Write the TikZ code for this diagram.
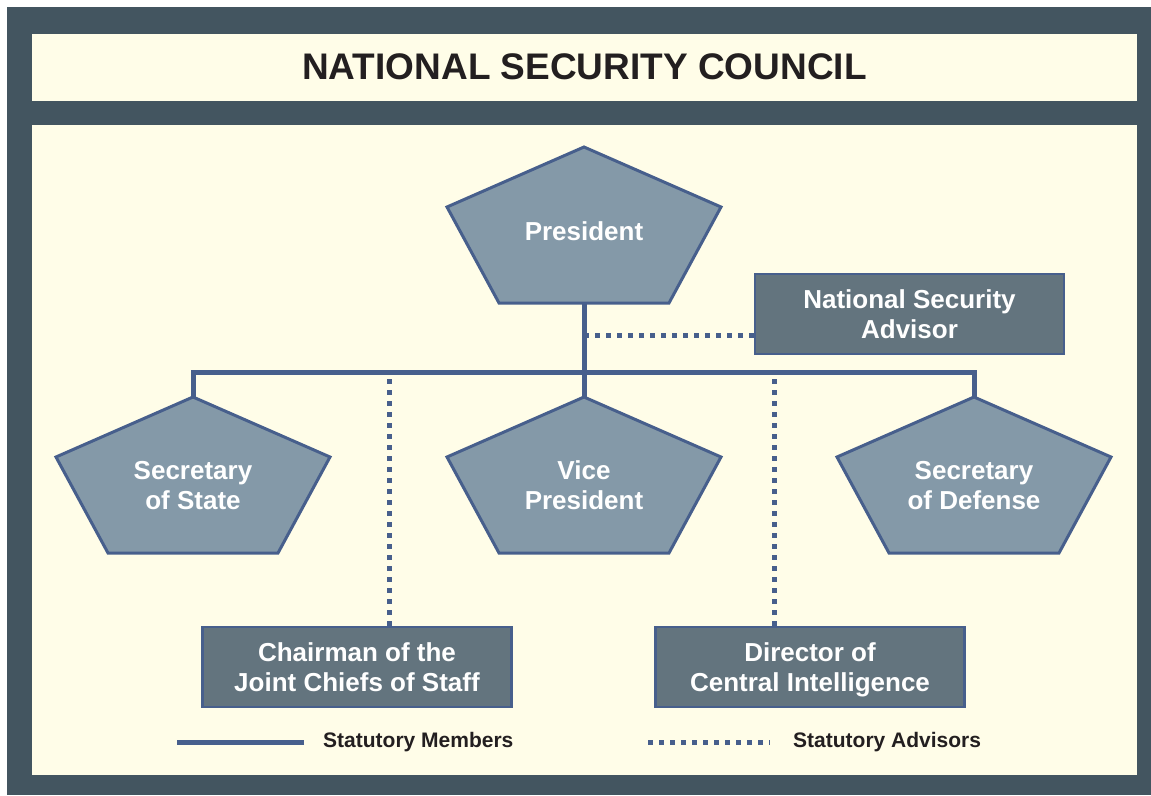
\documentclass[tikz,border=0pt]{standalone}
\usepackage{fontspec}
\setmainfont{Liberation Sans}
\usetikzlibrary{calc}

\definecolor{framegray}{HTML}{435560}
\definecolor{creambg}{HTML}{FFFDE8}
\definecolor{pentfill}{HTML}{8499A8}
\definecolor{boxfill}{HTML}{63747E}
\definecolor{lineblue}{HTML}{475F8C}
\definecolor{inkdark}{HTML}{231F20}

% struts that balance the cap height of the first and last line
\newcommand{\capstrut}{\rule{0pt}{27pt}}
\newcommand{\basestrut}{\rule[-8pt]{0pt}{8pt}}

% pentagon: [label drop], name, x, y of apex, text
\newcommand{\officepent}[5][88]{%
  \coordinate (#2-top) at (#3,#4);
  \draw[pent] (#2-top) -- ++(137,60) -- ++(-52,96) -- ++(-170,0)
    -- ++(-52,-96) -- cycle;
  \node[pentlabel] (#2) at ($(#2-top)+(0,#1)$) {\capstrut#5};
  \coordinate (#2-bot) at ($(#2-top)+(0,156)$);
}

\begin{document}
\begin{tikzpicture}[
    x=1pt, y=-1pt,
    font=\bfseries,
    pent/.style={draw=lineblue, fill=pentfill, line width=3pt, line join=miter},
    pentlabel/.style={text=white, align=center, inner sep=0pt,
                      font=\bfseries\fontsize{26}{30}\selectfont,
                      execute at end node=\basestrut},
    officebox/.style={draw=lineblue, fill=boxfill, line width=2.5pt,
                      minimum width=309pt, minimum height=80pt, inner sep=0pt,
                      text=white, align=center,
                      font=\bfseries\fontsize{26}{30}\selectfont,
                      execute at end node=\basestrut},
    member/.style={draw=lineblue, line width=5pt, line join=miter},
    advisor/.style={draw=lineblue, line width=5pt, dash pattern=on 5pt off 6pt},
    legendtext/.style={anchor=west, inner sep=0pt, text=inkdark,
                       font=\bfseries\fontsize{21}{24}\selectfont},
]
\useasboundingbox (0,0) rectangle (1151,795);

% === Frame ===
\fill[framegray] (7,7) rectangle (1151,795);
\fill[creambg] (32,34) rectangle (1137,101);
\fill[creambg] (32,125) rectangle (1137,775);

\node[text=inkdark, font=\bfseries\fontsize{37}{40}\selectfont] (title)
     at (584.5,67) {NATIONAL SECURITY COUNCIL};

% === Boxes ===
\node[officebox] (nsa) at (909.5,314) {\capstrut National Security\\Advisor};
\node[officebox] (jcs) at (357,667) {\capstrut Chairman of the\\Joint Chiefs of Staff};
\node[officebox] (dci) at (810,667) {\capstrut Director of\\Central Intelligence};

\coordinate (bar) at (584,372);
\coordinate (nsabranch) at ($(nsa.west)+(0,21)$);
\coordinate (jcsbranch) at ($(jcs.north)+(32,0)$);
\coordinate (dcibranch) at ($(dci.north)+(-36,0)$);

% === Advisors (dotted) ===
\draw[advisor] (nsabranch) -- (bar |- nsabranch);
\draw[advisor] (jcsbranch) -- (jcsbranch |- bar);
\draw[advisor] (dcibranch) -- (dcibranch |- bar);

% === Pentagons ===
\officepent[84]{pres}{584}{147}{President}
\officepent{sos}{193}{397}{Secretary\\of State}
\officepent{vp}{584}{397}{Vice\\President}
\officepent{sod}{974}{397}{Secretary\\of Defense}

% === Members (solid) ===
\draw[member] (pres-bot) -- (vp-top);
\draw[member] (sos-top) -- (sos-top |- bar) -| (sod-top);

% === Legend ===
\node[legendtext] (memberkey) at (323,742) {Statutory Members};
\node[legendtext] (advisorkey) at (793,742) {Statutory Advisors};
\draw[member] ([xshift=-19pt]memberkey.west) -- ++(-127,0);
\draw[advisor] ([xshift=-145pt]advisorkey.west) -- ++(122,0);

\end{tikzpicture}
\end{document}
